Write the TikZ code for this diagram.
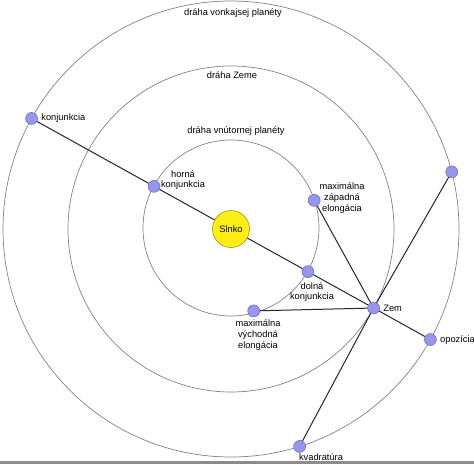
\documentclass[tikz,border=0pt]{standalone}
\usepackage{fontspec}
\setmainfont{Liberation Sans}
\usetikzlibrary{positioning}
\definecolor{planetFill}{RGB}{150,150,240}
\definecolor{planetDraw}{RGB}{105,105,175}
\definecolor{sunFill}{RGB}{255,238,20}
\definecolor{sunDraw}{RGB}{165,145,20}
\definecolor{orbitGray}{RGB}{130,130,130}

\begin{document}
\begin{tikzpicture}[x=1pt, y=1pt, every node/.style={font=\fontsize{9.3}{10.6}\selectfont},
  planet/.style={circle, draw=planetDraw, fill=planetFill, minimum size=12pt, inner sep=0pt, line width=0.5pt},
  orbit/.style={orbitGray, line width=0.7pt},
  link/.style={line width=1pt, black!85}]
  \useasboundingbox (-231,-235) rectangle (243,229);
  \fill[black!45] (-231,-235) rectangle (243,-232);
  % orbits of the inner planet, the Earth and the outer planet
  \draw[orbit] (0,1) circle (88);
  \foreach \r in {163,228}{
    \draw[orbit] (0,0) circle (\r);
  }
  \node (vonkText) at (2,216) {dráha vonkajsej planéty};
  \node (zemeText) at (1,154) {dráha Zeme};
  \node (vnutText) at (5,98) {dráha vnútornej planéty};
  % Sun and planets
  \node[circle, draw=sunDraw, fill=sunFill, minimum size=37pt, inner sep=0pt, line width=0.6pt] (slnko) at (0,0) {Slnko};
  \node[planet] (konj) at (151:228) {};
  \node[planet] (horna) at (151:88) {};
  \node[planet] (zapad) at (19:88) {};
  \node[planet] (kvadrB) at (14.5:228) {};
  \node[planet] (dolna) at (-29:88) {};
  \node[planet] (zem) at (-29:163) {};
  \node[planet] (vychod) at (-74.5:85) {};
  \node[planet] (opoz) at (-29:228) {};
  \node[planet] (kvadr) at (-72.5:228) {};
  % sight lines
  \draw[link] (konj) -- (horna) -- (slnko) -- (dolna) -- (zem) -- (opoz);
  \draw[link] (zem) -- (zapad);
  \draw[link] (zem) -- (vychod);
  \draw[link] (zem) -- (kvadrB);
  \draw[link] (zem) -- (kvadr);
  % labels
  \node[right] (konjText) at (konj.east) {konjunkcia};
  \node[align=center] (hornaText) at (-48,49) {horná\\konjunkcia};
  \node[align=center] (zapadText) at (111,31) {maximálna\\západná\\elongácia};
  \node[align=center] (dolnaText) at (81,-63) {dolná\\konjunkcia};
  \node[right] (zemText) at (zem.east) {Zem};
  \node[align=center] (vychodText) at (27,-106) {maximálna\\východná\\elongácia};
  \node[right] (opozText) at (opoz.east) {opozícia};
  \node (kvadrText) at (90,-228) {kvadratúra};
\end{tikzpicture}
\end{document}
